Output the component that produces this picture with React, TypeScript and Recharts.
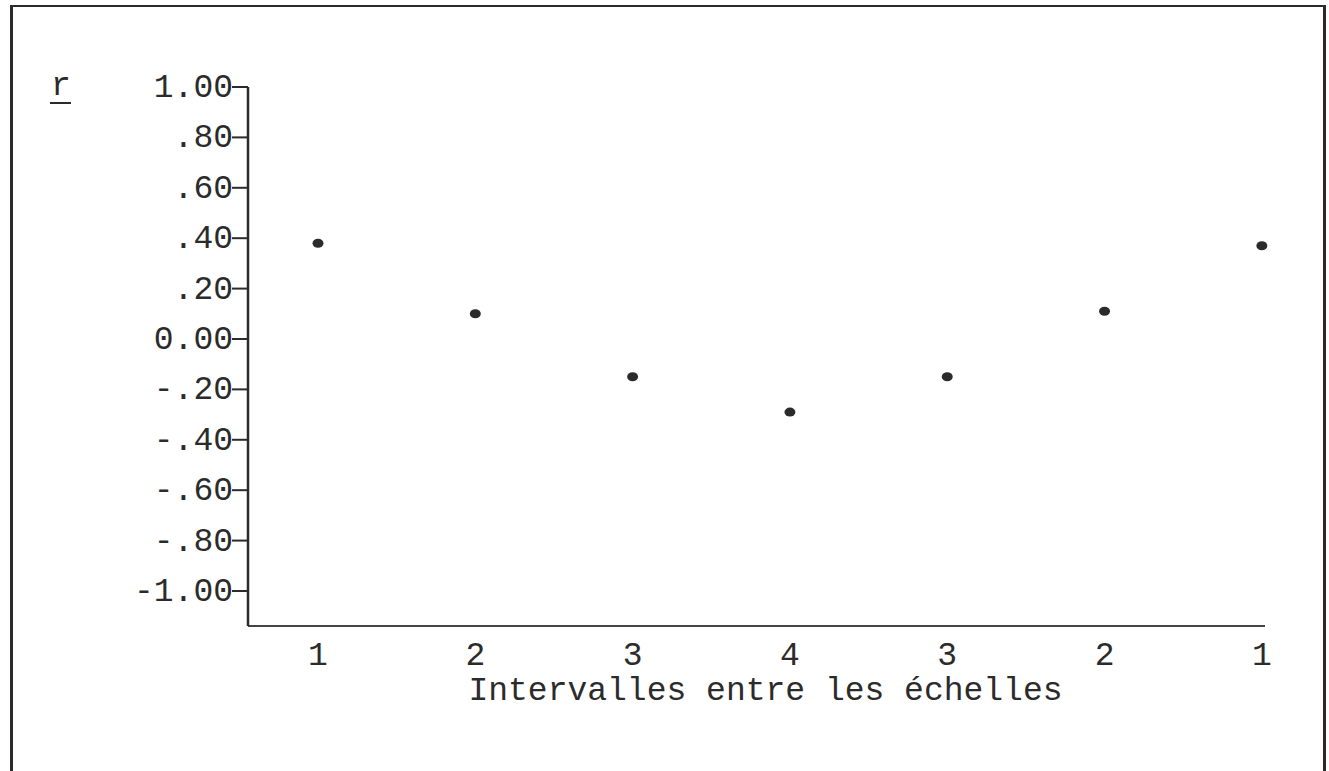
import React from 'react';
import { ScatterChart, Scatter, XAxis, YAxis, Label } from 'recharts';

// intervals between scales, read left to right
const intervalLabels = ['1', '2', '3', '4', '3', '2', '1'];
const intervalPositions = [1, 2, 3, 4, 5, 6, 7];
const correlationValues = [0.38, 0.1, -0.15, -0.29, -0.15, 0.11, 0.37];

const yTickValues = [1, 0.8, 0.6, 0.4, 0.2, 0, -0.2, -0.4, -0.6, -0.8, -1];
const yTickLabels = ['1.00', '.80', '.60', '.40', '.20', '0.00', '-.20', '-.40', '-.60', '-.80', '-1.00'];

const xAxisTitle = 'Intervalles entre les échelles';
const yAxisTitle = 'r';

const ink = '#2b2b2b';
const typeFont = '"Liberation Mono", "Courier New", monospace';

const chartData = intervalPositions.map((pos, i) => ({
  pos,
  r: correlationValues[i],
  label: intervalLabels[i],
}));

function YTick(props: any) {
  const { x, y, payload } = props;
  const idx = yTickValues.indexOf(payload.value);
  return (
    <g>
      <line x1={x - 16} x2={x} y1={y} y2={y} stroke={ink} strokeWidth={2} />
      <text x={x - 15} y={y + 10} textAnchor="end" fontFamily={typeFont} fontSize={33} fill={ink}>
        {yTickLabels[idx]}
      </text>
    </g>
  );
}

function XTick(props: any) {
  const { x, y, payload } = props;
  const idx = intervalPositions.indexOf(payload.value);
  return (
    <text x={x} y={y + 39} textAnchor="middle" fontFamily={typeFont} fontSize={33} fill={ink}>
      {intervalLabels[idx]}
    </text>
  );
}

function Dot(props: any) {
  const { cx, cy } = props;
  return <ellipse cx={cx} cy={cy} rx={5.5} ry={4.5} fill={ink} />;
}

export default function App(): React.JSX.Element {
  return (
    <div
      style={{
        position: 'absolute',
        left: 0,
        top: 0,
        width: 1329,
        height: 771,
        overflow: 'hidden',
        background: '#fff',
      }}
    >
      <div
        style={{
          position: 'absolute',
          left: 10,
          top: 5,
          width: 1310,
          height: 800,
          borderTop: `2px solid ${ink}`,
          borderLeft: `3px solid ${ink}`,
          borderRight: `3px solid ${ink}`,
        }}
      />
      <div style={{ position: 'absolute', left: 0, top: 0 }}>
        <ScatterChart width={1329} height={771} margin={{ top: 87, right: 64, bottom: 0, left: 0 }}>
          <XAxis
            type="number"
            dataKey="pos"
            domain={[0.555, 7.02]}
            ticks={intervalPositions}
            interval={0}
            height={145}
            tickLine={false}
            tickSize={0}
            tickMargin={0}
            axisLine={{ stroke: '#444', strokeWidth: 2 }}
            tick={<XTick />}
          >
            <Label
              content={({ viewBox }: any) => (
                <text
                  x={viewBox.x + viewBox.width / 2 + 9}
                  y={viewBox.y + 74}
                  textAnchor="middle"
                  fontFamily={typeFont}
                  fontSize={33}
                  fill={ink}
                >
                  {xAxisTitle}
                </text>
              )}
            />
          </XAxis>
          <YAxis
            type="number"
            dataKey="r"
            domain={[-1.139, 1]}
            ticks={yTickValues}
            interval={0}
            width={248}
            tickLine={false}
            tickSize={0}
            tickMargin={0}
            axisLine={{ stroke: ink, strokeWidth: 2.5 }}
            tick={<YTick />}
          >
            <Label
              content={({ viewBox }: any) => (
                <g>
                  <text
                    x={viewBox.x + 61}
                    y={viewBox.y + 8}
                    textAnchor="middle"
                    fontFamily={typeFont}
                    fontSize={33}
                    fill={ink}
                  >
                    {yAxisTitle}
                  </text>
                  <line
                    x1={viewBox.x + 50}
                    x2={viewBox.x + 71}
                    y1={viewBox.y + 16}
                    y2={viewBox.y + 16}
                    stroke={ink}
                    strokeWidth={2}
                  />
                </g>
              )}
            />
          </YAxis>
          <Scatter data={chartData} shape={<Dot />} isAnimationActive={false} />
        </ScatterChart>
      </div>
    </div>
  );
}
